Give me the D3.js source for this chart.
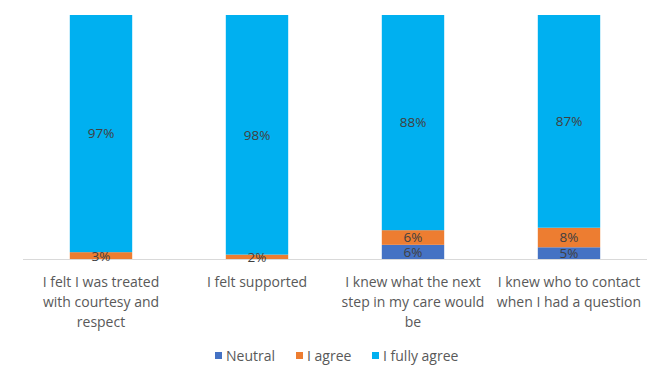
<!DOCTYPE html>
<html>
<head>
<meta charset="utf-8">
<script src="https://cdn.jsdelivr.net/npm/d3@7"></script>
<style>
  html, body { margin: 0; padding: 0; background: #fff; }
  svg { display: block; font-family: "Open Sans", "Liberation Sans", sans-serif; }
</style>
</head>
<body>
<svg id="chart" width="656" height="365"></svg>
<script>
'use strict';

/* ── Data ─────────────────────────────────────────────── */
const categories = [
  'I felt I was treated with courtesy and respect',
  'I felt supported',
  'I knew what the next step in my care would be',
  'I knew who to contact when I had a question'
];
const categoryLines = [
  ['I felt I was treated', 'with courtesy and', 'respect'],
  ['I felt supported'],
  ['I knew what the next', 'step in my care would', 'be'],
  ['I knew who to contact', 'when I had a question']
];
const seriesNames = ['Neutral', 'I agree', 'I fully agree'];
const neutral     = [0, 0, 6, 5];
const agree       = [3, 2, 6, 8];
const fullyAgree  = [97, 98, 88, 87];

const COLORS = { 'Neutral': '#4472C4', 'I agree': '#ED7D31', 'I fully agree': '#00B0F0' };

/* ── Layout ── */
const W = 656, H = 365;
const PAD_L = 23, PAD_R = 9, PAD_T = 15, BASE_Y = 259.5;

const svg = d3.select('#chart');

const rows = categories.map((c, i) => ({
  cat: c,
  'Neutral': neutral[i],
  'I agree': agree[i],
  'I fully agree': fullyAgree[i]
}));

const stack = d3.stack().keys(seriesNames)(rows);

const x = d3.scaleBand()
  .domain(categories)
  .range([PAD_L, W - PAD_R])
  .paddingInner(0.6)
  .paddingOuter(0.3);

const y = d3.scaleLinear().domain([0, 100]).range([BASE_Y, PAD_T]);

/* ── Bars ── */
stack.forEach(layer => {
  const g = svg.append('g').attr('fill', COLORS[layer.key]);
  g.selectAll('rect')
    .data(layer)
    .join('rect')
    .attr('x', d => x(d.data.cat))
    .attr('width', x.bandwidth())
    .attr('y', d => y(d[1]))
    .attr('height', d => y(d[0]) - y(d[1]));
});

/* ── Axis line ── */
svg.append('line')
  .attr('x1', PAD_L).attr('x2', W - PAD_R)
  .attr('y1', BASE_Y).attr('y2', BASE_Y)
  .attr('stroke', '#d9d9d9').attr('stroke-width', 1.2);

/* ── Data labels ── */
stack.forEach(layer => {
  svg.append('g').selectAll('text')
    .data(layer.filter(d => d[1] - d[0] > 0))
    .join('text')
    .attr('x', d => x(d.data.cat) + x.bandwidth() / 2)
    .attr('y', d => (y(d[0]) + y(d[1])) / 2)
    .attr('dy', '0.36em')
    .attr('text-anchor', 'middle')
    .attr('font-size', 13.5)
    .attr('fill', '#404040')
    .text(d => `${d[1] - d[0]}%`);
});

/* ── Category labels ── */
categories.forEach((c, i) => {
  const t = svg.append('text')
    .attr('x', x(c) + x.bandwidth() / 2)
    .attr('y', 286.5)
    .attr('text-anchor', 'middle')
    .attr('font-size', 14)
    .attr('fill', '#595959');
  categoryLines[i].forEach((ln, j) => {
    t.append('tspan')
      .attr('x', x(c) + x.bandwidth() / 2)
      .attr('dy', j === 0 ? 0 : 20)
      .text(ln);
  });
});

/* ── Legend ── */
const legendX = [215, 296, 372];
seriesNames.forEach((s, i) => {
  const lg = svg.append('g').attr('transform', `translate(${legendX[i]},0)`);
  lg.append('rect')
    .attr('x', 0).attr('y', 352)
    .attr('width', 7).attr('height', 7)
    .attr('fill', COLORS[s]);
  lg.append('text')
    .attr('x', 11).attr('y', 360.5)
    .attr('font-size', 14)
    .attr('fill', '#595959')
    .text(s);
});
</script>
</body>
</html>
